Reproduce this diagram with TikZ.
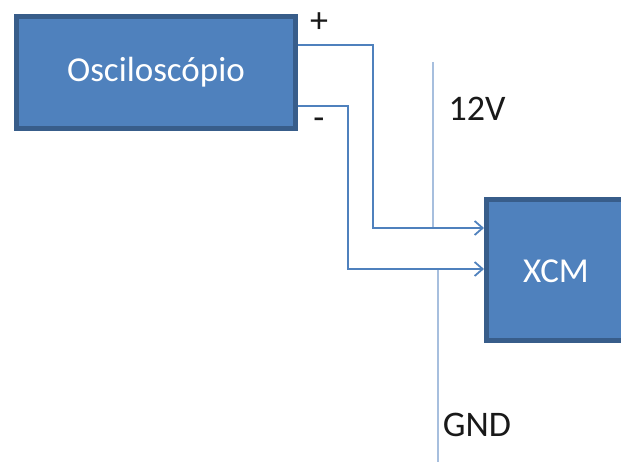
\documentclass[tikz,border=0pt]{standalone}
\usepackage{fontspec}
\setmainfont{Carlito}
\usepackage{tikz}
\usetikzlibrary{positioning,arrows.meta}
\definecolor{boxfill}{HTML}{4F81BD}
\definecolor{boxedge}{HTML}{385D8A}
\definecolor{railblue}{HTML}{A7BFDE}
\tikzset{
  block/.style={draw=boxedge, line width=5pt, fill=boxfill, text=white, inner sep=0pt, font=\fontsize{35}{40}\selectfont},
  wire/.style={draw=boxfill, line width=1.5pt},
  rail/.style={draw=railblue, line width=2.5pt},
  lbl/.style={font=\fontsize{36}{40}\selectfont, text=black!90, inner sep=0pt}
}
\begin{document}
\begin{tikzpicture}[x=1pt, y=-1pt]
    \useasboundingbox (0,0) rectangle (621,462);
    \clip (0,0) rectangle (621,462);

    \node[block, minimum width=279pt, minimum height=112pt] (osc) at (156,72.5) {Osciloscópio};
    \node[block, minimum width=230pt, minimum height=141pt] (xcm) at (601.5,270) {};
    \node[block, draw=none, fill=none] (xcmtext) at (556,271) {XCM};

    \coordinate (plusout) at (osc.east |- 0,45);
    \coordinate (minusout) at (osc.east |- 0,106);
    \coordinate (plusin) at (xcm.west |- 0,228);
    \coordinate (minusin) at (xcm.west |- 0,269);
    \coordinate (vtop) at (433,62);
    \coordinate (vjoin) at (433,228);
    \coordinate (gjoin) at (438,269);
    \coordinate (gbot) at (438,462);

    \draw[rail] (vtop) -- (vjoin);
    \draw[rail] (gjoin) -- (gbot);

    \draw[wire, -{Straight Barb[length=8pt, width=14pt, line width=1.8pt]}] (plusout) -| (373,228) -- (plusin);
    \draw[wire, -{Straight Barb[length=8pt, width=14pt, line width=1.8pt]}] (minusout) -| (348,269) -- (minusin);

    \node[lbl] (plus) at (319,23) {+};
    \node[lbl] (minus) at (319,124) {-};
    \node[lbl] (vlabel) at (477,109) {12V};
    \node[lbl] (glabel) at (477,425) {GND};
\end{tikzpicture}
\end{document}
